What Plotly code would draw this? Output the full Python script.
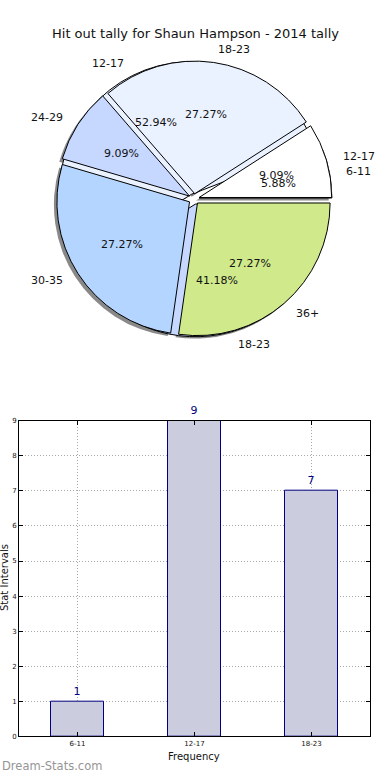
import numpy as np
import plotly.graph_objects as go

# ---- data ----
pie_a_labels = ["12-17", "18-23", "24-29", "30-35", "36+"]
pie_a_values = [1, 3, 1, 3, 3]
pie_b_labels = ["6-11", "12-17", "18-23"]
pie_b_values = [1, 9, 7]
bar_categories = ["6-11", "12-17", "18-23"]
bar_values = [1, 9, 7]
title_text = "Hit out tally for Shaun Hampson - 2014 tally"

palette = ["#ffffff", "#eaf1ff", "#c6d8ff", "#b4d5ff", "#cfe98b"]

W, H = 390, 780
CX, CY, R, PULL = 194, 197, 134, 0.04
HALF = R * (1 + PULL)


def px(x):
    return x / W


def py(y):
    return 1 - y / H


def dom(dx=0, dy=0):
    return dict(x=[px(CX - HALF + dx), px(CX + HALF + dx)],
                y=[py(CY + HALF + dy), py(CY - HALF + dy)])


def start_rotation(values):
    # plotly's counterclockwise pies end the first slice at `rotation`;
    # shift so the first slice starts at 3 o'clock (matplotlib default)
    v = np.array(values, dtype=float)
    return 90 - 360 * v[0] / v.sum()


fig = go.Figure()

# shadow
fig.add_trace(go.Pie(values=pie_a_values, labels=pie_a_labels, sort=False,
                     direction="counterclockwise", rotation=start_rotation(pie_a_values),
                     pull=PULL,
                     marker=dict(colors=["rgba(40,40,40,0.55)"] * 5, line=dict(width=0)),
                     textinfo="none", hoverinfo="skip", showlegend=False,
                     domain=dom(-3, 3)))
# second pie (underneath)
fig.add_trace(go.Pie(values=pie_b_values, labels=pie_b_labels, sort=False,
                     direction="counterclockwise", rotation=start_rotation(pie_b_values),
                     pull=PULL,
                     marker=dict(colors=palette[:3], line=dict(color="black", width=1)),
                     textinfo="none", showlegend=False, domain=dom()))
# first pie (on top)
fig.add_trace(go.Pie(values=pie_a_values, labels=pie_a_labels, sort=False,
                     direction="counterclockwise", rotation=start_rotation(pie_a_values),
                     pull=PULL,
                     marker=dict(colors=palette, line=dict(color="black", width=1)),
                     textinfo="none", showlegend=False, domain=dom()))

annotations = []
font_pie = dict(family="DejaVu Sans", size=11, color="#111111")


def pie_texts(labels, values):
    v = np.array(values, dtype=float)
    frac = v / v.sum()
    ends = np.cumsum(frac) * 360
    starts = ends - frac * 360
    mids = np.deg2rad((starts + ends) / 2)
    for lab, f, t in zip(labels, frac, mids):
        c, s = np.cos(t), np.sin(t)
        ox, oy = CX + PULL * R * c, CY - PULL * R * s
        annotations.append(dict(x=px(ox + 0.6 * R * c), y=py(oy - 0.6 * R * s),
                                text=f"{f*100:.2f}%", showarrow=False,
                                xanchor="center", yanchor="middle", font=font_pie))
        annotations.append(dict(x=px(ox + 1.1 * R * c), y=py(oy - 1.1 * R * s),
                                text=lab, showarrow=False,
                                xanchor="left" if c > 0 else "right",
                                yanchor="middle", font=font_pie))


pie_texts(pie_b_labels, pie_b_values)
pie_texts(pie_a_labels, pie_a_values)

# bar chart
fig.add_trace(go.Bar(x=bar_categories, y=bar_values, width=0.45,
                     marker=dict(color="#ccccdf", line=dict(color="#000080", width=1)),
                     text=[str(v) for v in bar_values], textposition="outside",
                     textfont=dict(family="DejaVu Sans", size=11, color="#000080"),
                     cliponaxis=False, showlegend=False, hoverinfo="skip"))

annotations += [
    dict(x=0.5, y=py(30), text=title_text, showarrow=False,
         font=dict(family="DejaVu Sans", size=13, color="#111111"),
         xanchor="center", yanchor="middle"),
    dict(x=px(194), y=py(760), text="Frequency", showarrow=False,
         font=dict(family="DejaVu Sans", size=10, color="#111111"),
         xanchor="center", yanchor="middle"),
    dict(x=px(4), y=py(580), text="Stat Intervals", textangle=-90, showarrow=False,
         font=dict(family="DejaVu Sans", size=10, color="#111111"),
         xanchor="center", yanchor="middle"),
    dict(x=0, y=py(770), text="Dream-Stats.com", showarrow=False,
         font=dict(family="DejaVu Sans", size=11.5, color="#959595"),
         xanchor="left", yanchor="middle"),
]
for a in annotations:
    a.setdefault("xref", "paper")
    a.setdefault("yref", "paper")

axis_common = dict(showline=True, linecolor="black", linewidth=1, mirror="allticks",
                   ticks="inside", ticklen=4, tickcolor="black",
                   showgrid=True, gridcolor="#a8a8a8", griddash="1px,2px", gridwidth=1,
                   tickfont=dict(family="DejaVu Sans", size=7, color="#111111"),
                   zeroline=False)

fig.update_layout(
    width=W, height=H,
    margin=dict(l=0, r=0, t=0, b=0),
    paper_bgcolor="white", plot_bgcolor="white",
    annotations=annotations,
    xaxis=dict(domain=[px(19), px(370)], range=[-0.5, 2.5], type="category", **axis_common),
    yaxis=dict(domain=[py(740), py(421)], range=[0, 9], dtick=1, **axis_common),
    bargap=0,
)

fig.write_html("out.html", config={"displayModeBar": False},
               post_script="document.body.style.margin='0px';")
